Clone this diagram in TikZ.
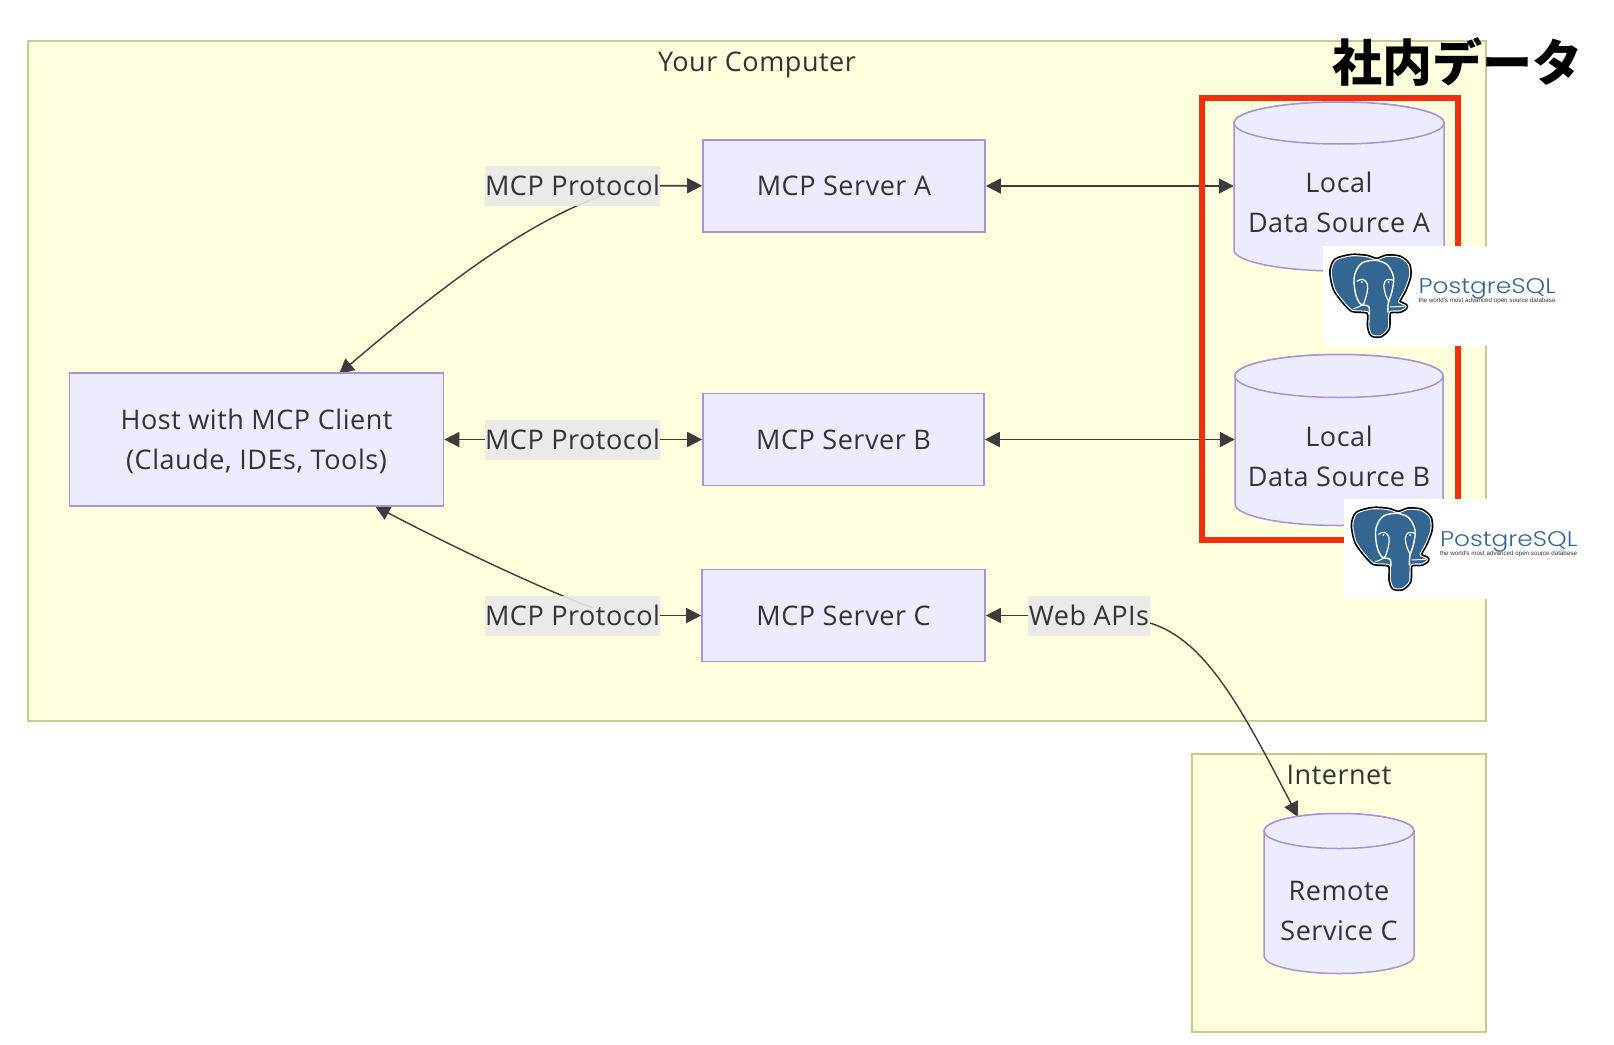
\documentclass[tikz,border=0pt]{standalone}
\usepackage{fontspec}
\usepackage{graphicx}
\setmainfont[LetterSpace=2]{Open Sans}
\newfontfamily\jpfont{Noto Sans CJK JP}
\newfontfamily\logofont{Poppins Light}
\newfontfamily\tagfont{Liberation Sans}
\usetikzlibrary{arrows.meta}
\pgfdeclarelayer{bgl}
\pgfsetlayers{bgl,main}
\definecolor{frameFill}{HTML}{FFFFDE}
\definecolor{frameLine}{HTML}{C8CB8E}
\definecolor{nodeFill}{HTML}{ECECFF}
\definecolor{nodeLine}{HTML}{A794D6}
\definecolor{labelFill}{HTML}{E8E8E8}
\definecolor{ink}{HTML}{333333}
\definecolor{lineInk}{HTML}{3C3C3C}
\definecolor{redBox}{HTML}{F2300F}
\definecolor{pgBlue}{HTML}{336791}
\tikzset{
  frameBox/.style={draw=frameLine,fill=frameFill,line width=1.8pt,inner sep=0pt},
  procBox/.style={draw=nodeLine,fill=nodeFill,line width=1.7pt,inner sep=0pt,align=center,font=\mainsz},
  edgeLabel/.style={fill=labelFill,fill opacity=.9,text opacity=1,inner sep=0pt,minimum height=40pt,font=\mainsz,text=ink},
  plainText/.style={inner sep=0pt,align=center,font=\mainsz,text=ink},
  dbShape/.style={draw=nodeLine,fill=nodeFill,line width=1.5pt},
  hitBox/.style={inner sep=0pt},
  link/.style={draw=lineInk,line width=1.8pt},
  curveLink/.style={draw=lineInk,line width=1.4pt},
  tipEnd/.style={-{Triangle[length=15pt,width=15pt]}},
  tipBoth/.style={{Triangle[length=15pt,width=15pt]}-{Triangle[length=15pt,width=15pt]}},
}
\newcommand{\mainsz}{\fontsize{27}{40}\selectfont\color{ink}}
% cylinder: name, left, right, ellipse-top-mid y, bottom-mid y, ry
\newcommand{\dbcyl}[6]{%
  \path[dbShape] (#2,#4) -- (#2,#5) arc[start angle=180,end angle=0,x radius={(#3-#2)/2},y radius=#6]
     -- (#3,#4) arc[start angle=0,end angle=-180,x radius={(#3-#2)/2},y radius=#6] -- cycle;
  \path[dbShape] (#2,#4) arc[start angle=180,end angle=540,x radius={(#3-#2)/2},y radius=#6];
  \node[hitBox,minimum width={(#3-#2)*1pt},minimum height={(#5-#4+2*#6)*1pt}] (#1) at ({(#2+#3)/2},{(#4+#5)/2}) {};
}
% logo
\newcommand{\pglogo}[3]{%
  \node[fill=white,inner sep=0pt,minimum width=300pt,minimum height=100pt,anchor=north west] (#1box) at (#2+1344,#3+499) {};
  \begin{scope}[shift={(#2+1340,#3+500)},x=0.3333pt,y=-0.3333pt]
    \def\sil{(175,40) (205,30) (243,33) (268,54) (271,88) (256,130) (238,165) (261,178) (245,190) (211,194) (207,243) (185,264) (162,262) (153,240) (152,196) (125,190) (102,188) (77,163) (50,125) (40,75) (53,41) (100,28) (145,31)}
    \draw[black,line width=5.6pt,line join=round] plot[smooth cycle,tension=.45] coordinates {\sil};
    \draw[white,line width=2.2pt,line join=round] plot[smooth cycle,tension=.45] coordinates {\sil};
    \fill[pgBlue] plot[smooth cycle,tension=.45] coordinates {\sil};
    \draw[white,line width=1.4pt,line cap=round] plot[smooth,tension=.6] coordinates {(168,40) (130,48) (108,85) (110,135) (125,170) (150,178) (152,200)};
    \draw[white,line width=1.4pt,line cap=round] plot[smooth,tension=.6] coordinates {(172,40) (205,52) (225,90) (220,135) (210,165) (208,195)};
    \draw[white,line width=1.2pt] plot[smooth,tension=.6] coordinates {(115,103) (133,97) (147,112) (145,140) (135,172)};
    \draw[white,line width=1.2pt] plot[smooth,tension=.6] coordinates {(225,100) (205,98) (196,115) (202,145) (212,165)};
    \fill[white] (130,105) circle[radius=3];
    \fill[white] (210,105) circle[radius=3];
    \draw[white,line width=1pt] (105,185) .. controls (118,182) and (130,176) .. (137,168);
    \draw[white,line width=1pt] (258,178) -- (215,180);
  \end{scope}
  \node[inner sep=0pt,anchor=base west,text=pgBlue,font=\logofont\fontsize{21}{21}\selectfont] (#1name) at (#2+1440,#3+546) {\resizebox{137pt}{15pt}{PostgreSQL}};
  \node[inner sep=0pt,anchor=center,text=ink,font=\tagfont\fontsize{6}{6}\selectfont] (#1tag) at (#2+1508.5,#3+554) {\resizebox{137pt}{!}{the world's most advanced open source database}};
}
\begin{document}
\begin{tikzpicture}[x=1pt,y=-1pt]
\useasboundingbox (0,0) rectangle (1614,1044);
% frames
\begin{pgfonlayer}{bgl}
\fill[white] (0,0) rectangle (1614,1044);
\node[frameBox,minimum width=1458pt,minimum height=680pt] (computer) at (757,381) {};
\node[frameBox,minimum width=294pt,minimum height=278pt] (internet) at (1339,893) {};
\end{pgfonlayer}
\node[plainText] (computerT) at (757,65) {Your Computer};
\node[plainText] (internetT) at (1339,775) {Internet};
% boxes
\node[procBox,minimum width=374pt,minimum height=133pt,label={[plainText,yshift=-2pt]center:{Host with MCP Client\\(Claude, IDEs, Tools)}}] (host) at (256.5,439.5) {};
\node[procBox,minimum width=282pt,minimum height=92pt] (srvA) at (844,186) {MCP Server A};
\node[procBox,minimum width=281pt,minimum height=92pt] (srvB) at (843.5,439.5) {MCP Server B};
\node[procBox,minimum width=283pt,minimum height=92pt] (srvC) at (843.5,615.5) {MCP Server C};
% labels
\node[edgeLabel,minimum width=175pt] (lblA) at (572.5,185.5) {MCP Protocol};
\node[edgeLabel,minimum width=175pt] (lblB) at (572.5,439.5) {MCP Protocol};
\node[edgeLabel,minimum width=175pt] (lblC) at (572.5,615.5) {MCP Protocol};
\node[edgeLabel,minimum width=122pt] (lblW) at (1089,615.5) {Web APIs};
% cylinders
\dbcyl{dsA}{1234}{1444}{123}{250}{21}
\dbcyl{dsB}{1235}{1443}{376}{504}{21.5}
\dbcyl{dsC}{1264}{1414}{831}{956}{17.5}
\node[plainText] (dsAt) at (1339,202) {Local\\Data Source A};
\node[plainText] (dsBt) at (1339,456) {Local\\Data Source B};
\node[plainText] (dsCt) at (1339,911) {Remote\\Service C};
% free ends of the curved connectors
\coordinate (lblAin) at (606,194);
\coordinate (hostT) at (339,374);
\coordinate (lblCin) at (593,608);
\coordinate (hostB) at (375,506);
\coordinate (lblWout) at (1150,623);
\coordinate (dsCtop) at (1298,817);
% connectors
\begin{pgfonlayer}{bgl}
\draw[link,tipEnd] (lblA) -- (srvA);
\draw[link,tipEnd] (lblB) -- (srvB);
\draw[link,tipEnd] (lblB) -- (host);
\draw[link,tipEnd] (lblC) -- (srvC);
\draw[link,tipEnd] (lblW) -- (srvC);
\draw[link,tipBoth] (srvA.east) -- (srvA.east -| dsA.west);
\draw[link,tipBoth] (srvB.east) -- (srvB.east -| dsB.west);
\draw[curveLink,tipEnd] (lblAin) .. controls (540,218) and (470,262) .. (hostT);
\draw[curveLink,tipEnd] (lblCin) .. controls (540,588) and (455,548) .. (hostB);
\draw[curveLink,tipEnd] (lblWout) .. controls (1205,640) and (1240,705) .. (dsCtop);
\end{pgfonlayer}
% red highlight
\node[draw=redBox,line width=6pt,inner sep=0pt,minimum width=256pt,minimum height=442pt] (red) at (1330,319) {};
\node[inner sep=0pt,font=\jpfont\bfseries\fontsize{50}{50}\selectfont,text=black] (title) at (1457,62) {社内データ};
% logos
\pglogo{logoA}{-21.5}{-253}
\pglogo{logoB}{0}{0}
\end{tikzpicture}
\end{document}
